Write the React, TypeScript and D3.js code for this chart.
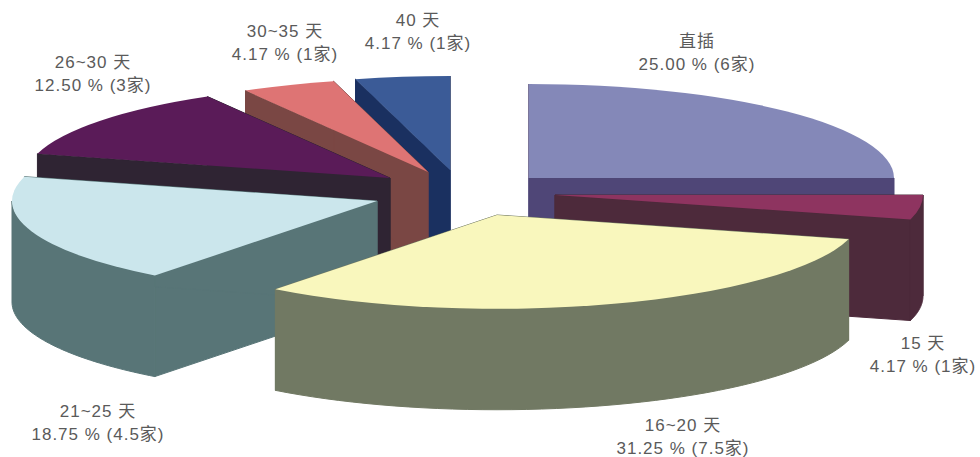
import React from "react";
import * as d3 from "d3";

// Share of the 24 firms by lead time
const categories = ["直插", "15 天", "16~20 天", "21~25 天", "26~30 天", "30~35 天", "40 天"];
const firmCounts = [6, 1, 7.5, 4.5, 3, 1, 1];

const topColors = ["#8488B8", "#8E3460", "#F9F7BD", "#CBE6EC", "#5A1B58", "#DE7474", "#3B5B97"];
const wallColors = ["#4F4677", "#4D2A3B", "#717963", "#587577", "#2F2433", "#7A4744", "#1A3060"];

// Exploded apex of each slice, its horizontal radius, and its label centre
const apexes: [number, number][] = [
  [529, 178], [555, 195], [497, 215], [377, 201], [390, 178], [428, 172], [450, 170],
];
const radii = [365, 368, 364, 365, 365, 365, 365];
const labelCentres: [number, number][] = [
  [697, 47], [923, 349], [683, 431], [98, 417], [93, 68], [285, 37], [418, 26],
];

// Painter's order: back slices first, front slices last
const drawOrder = [6, 5, 4, 0, 1, 3, 2];

const SQUASH = 94 / 365;
const DEPTH = 101;
const LINE_GAP = 23;

const total = d3.sum(firmCounts);
const pct = d3.format(".2f");
const arcs = d3.pie<number>().sort(null)(firmCounts);

function rimPoint(angle: number, i: number): [number, number] {
  const [cx, cy] = apexes[i];
  return [cx + radii[i] * Math.sin(angle), cy - radii[i] * SQUASH * Math.cos(angle)];
}

function topFace(i: number): string {
  const arc = d3.arc<d3.PieArcDatum<number>>().innerRadius(0).outerRadius(radii[i]);
  return arc(arcs[i]) as string;
}

// Everything visible below the top face: the two cut faces and the front part of the rim
function wallPaths(i: number): string[] {
  const a = arcs[i];
  const c = apexes[i];
  const cut = d3
    .area<[number, number]>()
    .x((p) => p[0])
    .y0((p) => p[1])
    .y1((p) => p[1] + DEPTH);
  const paths = [
    cut([c, rimPoint(a.startAngle, i)]) as string,
    cut([c, rimPoint(a.endAngle, i)]) as string,
  ];
  // The rim faces the viewer only between 90° and 270°; limiting it there keeps the band from folding over itself
  const from = Math.max(a.startAngle, Math.PI / 2);
  const to = Math.min(a.endAngle, (3 * Math.PI) / 2);
  if (to > from) {
    const samples = d3.range(0, 49).map((k) => from + ((to - from) * k) / 48);
    const rim = d3
      .area<number>()
      .x((t) => rimPoint(t, i)[0])
      .y0((t) => rimPoint(t, i)[1])
      .y1((t) => rimPoint(t, i)[1] + DEPTH);
    paths.push(rim(samples) as string);
  }
  return paths;
}

export default function App() {
  return (
    <svg
      width={980}
      height={457}
      viewBox="0 0 980 457"
      style={{ position: "absolute", left: 0, top: 0, background: "#fff" }}
    >
      {drawOrder.map((i) => (
        <g key={categories[i]}>
          {wallPaths(i).map((d, k) => (
            <path key={k} d={d} fill={wallColors[i]} stroke={wallColors[i]} strokeWidth={1} />
          ))}
          <path
            d={topFace(i)}
            fill={topColors[i]}
            transform={`translate(${apexes[i][0]},${apexes[i][1]}) scale(1,${SQUASH})`}
          />
        </g>
      ))}
      <g
        fontFamily="'Liberation Sans', 'Noto Sans CJK SC', sans-serif"
        fontSize={17}
        fill="#5a5a5a"
        textAnchor="middle"
        letterSpacing={1}
      >
        {categories.map((name, i) => (
          <text key={name} x={labelCentres[i][0]} y={labelCentres[i][1]}>
            <tspan x={labelCentres[i][0]}>{name}</tspan>
            <tspan x={labelCentres[i][0]} dy={LINE_GAP}>
              {`${pct((firmCounts[i] / total) * 100)} % (${firmCounts[i]}家)`}
            </tspan>
          </text>
        ))}
      </g>
    </svg>
  );
}
